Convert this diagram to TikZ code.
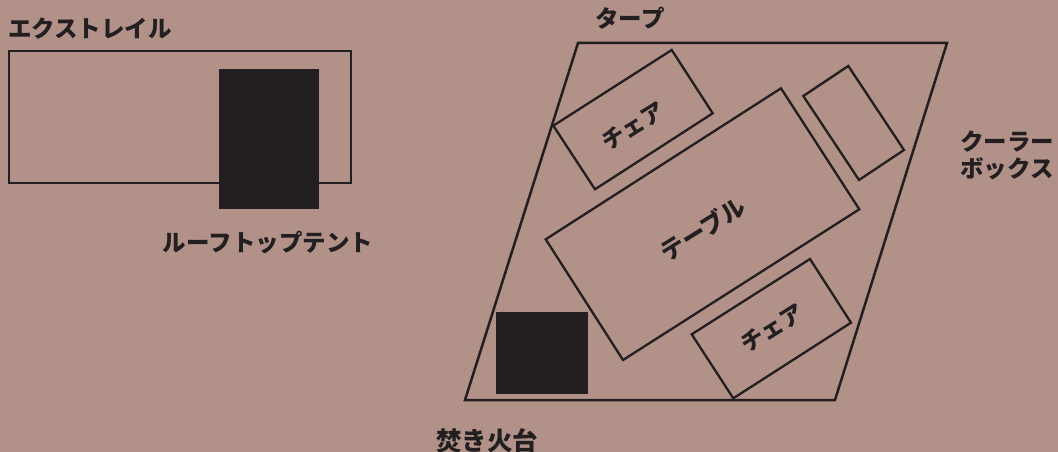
\documentclass[tikz,border=0pt]{standalone}
\usepackage{fontspec}
\newfontfamily\cjk{Noto Sans CJK JP}
\definecolor{bgc}{HTML}{B29189}
\definecolor{ink}{HTML}{231F20}
\tikzset{
  outline/.style={draw=ink,line width=2.5pt,line join=miter},
  thinout/.style={draw=ink,line width=2.3pt,line join=miter},
  solid block/.style={fill=ink,draw=none},
  lab/.style={font=\cjk\bfseries\fontsize{23.5}{25}\selectfont,text=ink,inner sep=0pt,align=center},
  tilt/.style={font=\cjk\bfseries\fontsize{23}{25}\selectfont,text=ink,inner sep=0pt,rotate=32},
}
\begin{document}
\begin{tikzpicture}[x=1pt,y=-1pt]
\useasboundingbox (0,0) rectangle (1058,452);
\fill[bgc] (0,0) rectangle (1058,452);
% left: trailer + tent
\draw[outline] (9,51) rectangle (351,183);
\fill[solid block] (219,69) rectangle (319,209);
% right: tarp and furniture
\draw[outline] (578,43) -- (947,43) -- (835,400) -- (465,400) -- cycle;
\draw[thinout] (671.7,50) -- (712.7,113.3) -- (595,189.3) -- (553.3,125.7) -- cycle;
\draw[thinout] (781,88.3) -- (859.3,209.3) -- (623,360) -- (545.7,239.3) -- cycle;
\draw[thinout] (848.3,66) -- (904,150) -- (859,180) -- (803.3,96) -- cycle;
\draw[thinout] (810,259) -- (851,322.7) -- (733.3,398.3) -- (691.7,334.3) -- cycle;
\fill[solid block] (496,312) rectangle (588,394);
% labels
\node[lab] (trailer) at (90,29) {エクストレイル};
\node[lab] (tent) at (268,243) {ルーフトップテント};
\node[lab] (tarp) at (630,18) {タープ};
\node[lab] (cooler) at (1007,155) {クーラー\\[2pt]ボックス};
\node[lab,font=\cjk\bfseries\fontsize{25.5}{27}\selectfont] (fire) at (487,441) {焚き火台};
\node[tilt] (chair1) at (633,126) {チェア};
\node[tilt,font=\cjk\bfseries\fontsize{24}{26}\selectfont] (table) at (703,229) {テーブル};
\node[tilt] (chair2) at (772,328) {チェア};
\end{tikzpicture}
\end{document}
